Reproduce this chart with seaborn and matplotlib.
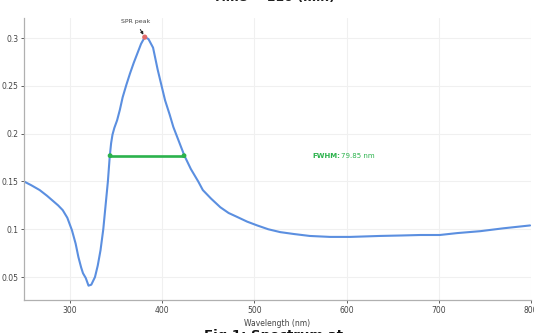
import matplotlib
matplotlib.use("Agg")
import matplotlib.pyplot as plt
import seaborn as sns
import pandas as pd

wavelength = [250, 258, 267, 275, 281, 287, 292, 297, 302, 306, 309, 312, 314, 317, 320, 323,
              327, 330, 333, 336, 338, 341, 343, 344.5, 346, 348, 351, 354, 357, 361, 365, 369, 373,
              377, 381, 385, 390, 395, 399, 403, 408, 412, 418, 424, 431, 439, 444, 453, 463,
              472, 481, 492, 503, 515, 528, 543, 560, 582, 604, 620, 636, 660, 680, 701, 720,
              745, 770, 799]
absorbance = [0.150, 0.146, 0.141, 0.135, 0.130, 0.125, 0.120, 0.112, 0.099, 0.085, 0.071, 0.060,
              0.054, 0.049, 0.041, 0.042, 0.050, 0.062, 0.078, 0.100, 0.120, 0.150, 0.176, 0.190,
              0.199, 0.206, 0.214, 0.225, 0.238, 0.251, 0.263, 0.274, 0.284, 0.294, 0.301, 0.299,
              0.290, 0.267, 0.251, 0.235, 0.220, 0.207, 0.192, 0.177, 0.163, 0.150, 0.141, 0.132,
              0.123, 0.117, 0.113, 0.108, 0.104, 0.100, 0.097, 0.095, 0.093, 0.092, 0.092, 0.0925,
              0.093, 0.0935, 0.094, 0.094, 0.096, 0.098, 0.101, 0.104]

peak_wl = [381]
peak_abs = [0.301]
fwhm_wl = [343.4, 423.6]
fwhm_abs = [0.177, 0.177]
fwhm_value = 79.85

xticks = [300, 400, 500, 600, 700, 800]
yticks = [0.05, 0.1, 0.15, 0.2, 0.25, 0.3]
ytick_labels = ["0.05", "0.1", "0.15", "0.2", "0.25", "0.3"]

sns.set_theme(style="white")
plt.rcParams['font.family'] = ['DejaVu Sans']

fig = plt.figure(figsize=(5.34, 3.33), dpi=100)
ax = fig.add_axes([24/534, 1-300/333, 507/534, 282/333])

df = pd.DataFrame({"wl": wavelength, "abs": absorbance})
sns.lineplot(data=df, x="wl", y="abs", ax=ax, color="#5b8fe0", linewidth=1.5, sort=False)

fw = pd.DataFrame({"wl": fwhm_wl, "abs": fwhm_abs})
sns.lineplot(data=fw, x="wl", y="abs", ax=ax, color="#2bb24c", linewidth=1.9, sort=False)
sns.scatterplot(data=fw, x="wl", y="abs", ax=ax, color="#2bb24c", s=12, edgecolor="none", zorder=5)

pk = pd.DataFrame({"wl": peak_wl, "abs": peak_abs})
sns.scatterplot(data=pk, x="wl", y="abs", ax=ax, color="#e06a6a", s=14, edgecolor="none", zorder=5)

ax.annotate("SPR peak", xy=(peak_wl[0], peak_abs[0]), xytext=(peak_wl[0] - 10, 0.315),
            fontsize=4.5, color="#444444", ha="center", va="bottom",
            arrowprops=dict(arrowstyle="-|>", color="#222222", lw=0.7, mutation_scale=4))

ax.text(563, 0.177, "FWHM:", fontsize=5, color="#2bb24c", fontweight="bold", va="center", ha="left")
ax.text(594, 0.177, f"{fwhm_value} nm", fontsize=5, color="#2bb24c", va="center", ha="left")

ax.set_xlim(250, 800)
ax.set_ylim(0.026, 0.321)
ax.set_xticks(xticks)
ax.set_yticks(yticks)
ax.set_yticklabels(ytick_labels)
ax.grid(True, color="#f0f0f0", linewidth=0.8)
ax.tick_params(axis="both", labelsize=5.5, colors="#444444", length=2, width=0.6, pad=2,
               direction="out", bottom=True, left=True)
for s in ["top", "right"]:
    ax.spines[s].set_visible(False)
for s in ["left", "bottom"]:
    ax.spines[s].set_color("#b0b0b0")
    ax.spines[s].set_linewidth(0.9)

ax.set_xlabel("Wavelength (nm)", fontsize=5.5, color="#444444", labelpad=3)
ax.set_ylabel("Abs", fontsize=5.5, color="#444444", labelpad=4)

fig.text(0.513, 1 - 1.5/333, "Time = 110 (min)", ha="center", va="baseline", fontsize=9, fontweight="bold", color="#222222")
fig.text(0.513, 1 - 329/333, "Fig 1: Spectrum at", ha="center", va="top", fontsize=9.5, fontweight="bold", color="#111111")

fig.savefig("out.png", dpi=100)
